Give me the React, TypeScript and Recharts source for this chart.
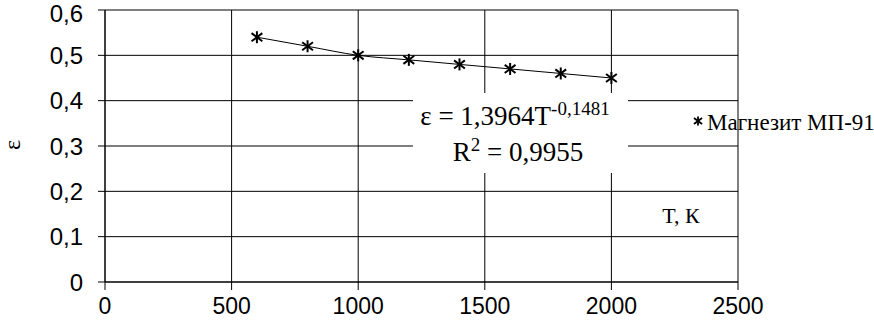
import React from "react"
import { LineChart, Line, XAxis, YAxis, CartesianGrid } from "recharts"

const temps = [600, 800, 1000, 1200, 1400, 1600, 1800, 2000]
const emissivity = [0.54, 0.52, 0.5, 0.49, 0.48, 0.47, 0.46, 0.45]
const xTicks = [0, 500, 1000, 1500, 2000, 2500]
const yTicks = [0, 0.1, 0.2, 0.3, 0.4, 0.5, 0.6]
const seriesName = "Магнезит МП-91"

const data = temps.map((t, i) => ({ t, eps: emissivity[i] }))

const serif = "'Liberation Serif', 'Times New Roman', serif"
const sans = "'Liberation Sans', Arial, sans-serif"

function Star({ cx, cy, s = 5, w = 1.6 }: { cx?: number; cy?: number; s?: number; w?: number }) {
    if (cx == null || cy == null) return null
    const d = s * 0.9
    return (
        <g stroke="#000" strokeWidth={w}>
            <line x1={cx} y1={cy - s} x2={cx} y2={cy + s} />
            <line x1={cx - d} y1={cy - d * 0.75} x2={cx + d} y2={cy + d * 0.75} />
            <line x1={cx - d} y1={cy + d * 0.75} x2={cx + d} y2={cy - d * 0.75} />
        </g>
    )
}

export default function App() {
    return (
        <div style={{ position: "absolute", left: 0, top: 0, width: 874, height: 320, background: "#fff" }}>
            <LineChart width={874} height={320} data={data} margin={{ top: 10, right: 136, bottom: 0, left: 0 }}>
                <CartesianGrid stroke="#000" strokeWidth={1} />
                <XAxis
                    dataKey="t"
                    type="number"
                    domain={[0, 2500]}
                    ticks={xTicks}
                    height={38}
                    tickSize={8}
                    tickMargin={8}
                    stroke="#000"
                    tick={{ fill: "#000", fontSize: 23, fontFamily: sans }}
                />
                <YAxis
                    domain={[0, 0.6]}
                    ticks={yTicks}
                    width={105}
                    tickSize={7}
                    tickMargin={15}
                    stroke="#000"
                    tickFormatter={(v: number) => (v === 0 ? "0" : v.toFixed(1).replace(".", ","))}
                    tick={{ fill: "#000", fontSize: 24, fontFamily: sans }}
                />
                <Line
                    dataKey="eps"
                    type="monotone"
                    stroke="#000"
                    strokeWidth={1}
                    dot={(p: any) => <Star key={p.index} cx={p.cx} cy={p.cy} s={6} w={2} />}
                    activeDot={false}
                    isAnimationActive={false}
                />
            </LineChart>
            <svg width={874} height={320} style={{ position: "absolute", left: 0, top: 0, pointerEvents: "none" }}>
                <g transform="translate(20 145) rotate(-90)">
                    <text x={0} y={0} textAnchor="middle" fontFamily={serif} fontSize={24}>
                        ε
                    </text>
                </g>
                <rect x={413} y={93} width={215} height={80} fill="#fff" />
                <text x={515} y={125} textAnchor="middle" fontFamily={serif} fontSize={27}>
                    ε = 1,3964T<tspan dy={-10} fontSize={19}>-0,1481</tspan>
                </text>
                <text x={518} y={161} textAnchor="middle" fontFamily={serif} fontSize={27}>
                    R<tspan dy={-10} fontSize={19}>2</tspan>
                    <tspan dy={10}> = 0,9955</tspan>
                </text>
                <Star cx={698} cy={121} s={4.5} w={1.8} />
                <text x={707} y={130} fontFamily={serif} fontSize={23}>
                    {seriesName}
                </text>
                <text x={681} y={223} textAnchor="middle" fontFamily={serif} fontSize={22}>
                    T, К
                </text>
            </svg>
        </div>
    )
}
